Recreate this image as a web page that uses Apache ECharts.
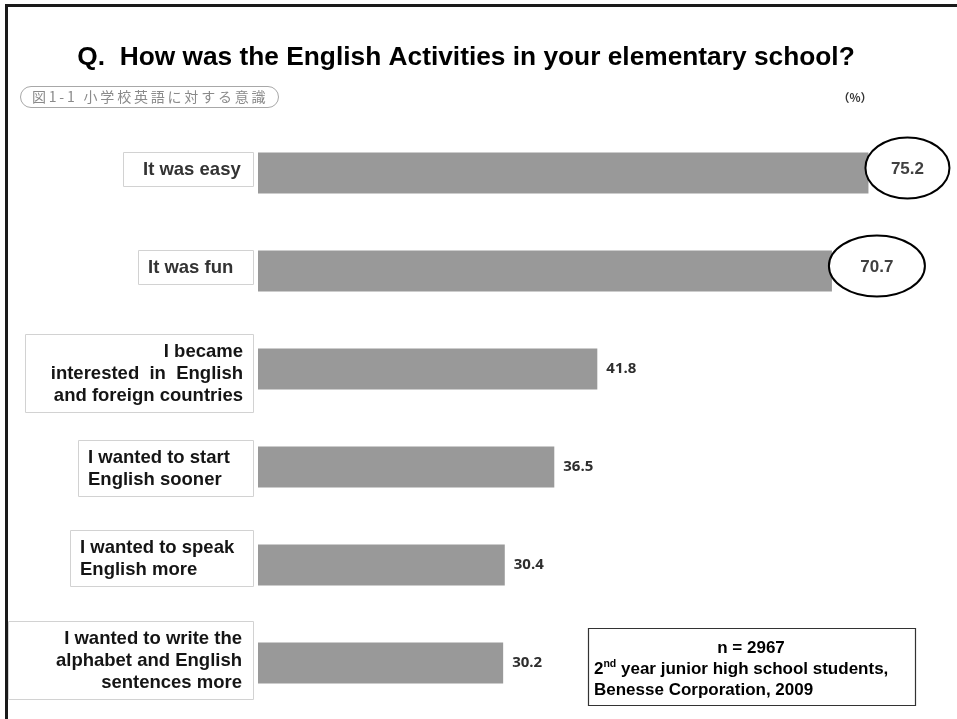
<!DOCTYPE html>
<html>
<head>
<meta charset="utf-8">
<title>English Activities in elementary school</title>
<script src="https://cdn.jsdelivr.net/npm/echarts@6/dist/echarts.min.js"></script>
<style>
  html, body { margin: 0; padding: 0; background: #ffffff; }
  #chart { width: 957px; height: 719px; }
</style>
</head>
<body>
<div id="chart"></div>
<script>
// Survey answers (percent of students), top to bottom
const categories = [
  'It was easy',
  'It was fun',
  'I became\ninterested  in  English\nand foreign countries',
  'I wanted to start\nEnglish sooner',
  'I wanted to speak\nEnglish more',
  'I wanted to write the\nalphabet and English\nsentences more'
];
const percentages = [75.2, 70.7, 41.8, 36.5, 30.4, 30.2];
const highlightedCount = 2;   // the leading answers get an oval around their value

const titleText = 'Q.  How was the English Activities in your elementary school?';
const figureTag = '図1-1 小学校英語に対する意識';
const unitText = '（%）';
const noteLines = ['n = 2967', 'year junior high school students,', 'Benesse Corporation, 2009'];

// Label box styling per category (width, text alignment, inner padding, vertical nudge)
const boxWidth = [130, 115, 228, 175, 183, 245];
const boxAlign = ['left', 'left', 'right', 'left', 'left', 'right'];
const boxPad = [20, 10, 10, 10, 10, 11];
const boxShift = [-4, -4, 4, 1, -7, -3];
const ovalRx = [42, 48];

const SANS = '"Liberation Sans", Arial, sans-serif';
const LINE_H = 22;

// spread the figure tag out a little (thin spaces between characters)
const spacedTag = Array.from(figureTag).join('\u2009');

const chart = echarts.init(document.getElementById('chart'), null, { renderer: 'canvas' });

const barData = percentages.map((v, i) =>
  i < highlightedCount ? { value: v, label: { show: false } } : v
);

const option = {
  animation: false,
  backgroundColor: '#ffffff',
  grid: { left: 258, top: 124, width: 690, height: 588, containLabel: false },
  xAxis: { type: 'value', min: 0, max: 85, show: false },
  yAxis: { type: 'category', data: categories, inverse: true, show: false },
  series: [
    {
      type: 'bar',
      data: barData,
      barWidth: 41,
      itemStyle: { color: '#999999' },
      label: {
        show: true,
        position: 'right',
        distance: 9,
        formatter: p => Number(p.value).toFixed(1),
        fontFamily: '"Open Sans", "Noto Sans", sans-serif',
        fontWeight: 700,
        fontSize: 15,
        color: '#2e2e2e'
      },
      z: 2
    },
    {
      // category label boxes to the left of the bars
      type: 'custom',
      data: categories.map((_, i) => [0, i]),
      encode: { x: 0, y: 1 },
      z: 3,
      silent: true,
      renderItem: function (params, api) {
        const idx = api.value(1);
        const p = api.coord([0, idx]);
        const right = p[0] - 5;
        const w = boxWidth[idx];
        const left = right - w;
        const nLines = categories[idx].split('\n').length;
        const h = nLines * LINE_H + 12;
        const cy = p[1] + boxShift[idx];
        const align = boxAlign[idx];
        return {
          type: 'group',
          children: [
            {
              type: 'rect',
              shape: { x: Math.round(left) + 0.5, y: Math.round(cy - h / 2) + 0.5, width: w, height: h },
              style: { fill: '#ffffff', stroke: '#d2d2d2', lineWidth: 1 }
            },
            {
              type: 'text',
              style: {
                text: categories[idx],
                x: align === 'left' ? left + boxPad[idx] : right - boxPad[idx],
                y: cy + 1,
                align: align,
                verticalAlign: 'middle',
                lineHeight: LINE_H,
                font: 'bold 18.5px ' + SANS,
                fill: idx < highlightedCount ? '#333333' : '#151515'
              }
            }
          ]
        };
      }
    },
    {
      // ovals around the leading values
      type: 'custom',
      data: percentages.slice(0, highlightedCount).map((v, i) => [v, i]),
      encode: { x: 0, y: 1 },
      z: 4,
      silent: true,
      renderItem: function (params, api) {
        const v = api.value(0);
        const idx = api.value(1);
        const p = api.coord([v, idx]);
        const rx = ovalRx[idx];
        const cx = p[0] + rx - 3;
        const cy = p[1] - 5;
        return {
          type: 'group',
          children: [
            {
              type: 'ellipse',
              shape: { cx: cx, cy: cy, rx: rx, ry: 30.5 },
              style: { fill: '#ffffff', stroke: '#000000', lineWidth: 2 }
            },
            {
              type: 'text',
              style: {
                text: v.toFixed(1),
                x: cx,
                y: cy + 1,
                align: 'center',
                verticalAlign: 'middle',
                font: 'bold 17px ' + SANS,
                fill: '#404040'
              }
            }
          ]
        };
      }
    }
  ],
  graphic: [
    {
      type: 'text', x: 466, y: 58, z: 10,
      style: { text: titleText, font: 'bold 26.3px ' + SANS, fill: '#000000', align: 'center', verticalAlign: 'middle' }
    },
    {
      type: 'rect', z: 10,
      shape: { x: 20.5, y: 86.5, width: 258, height: 21, r: 10.5 },
      style: { fill: '#ffffff', stroke: '#a8a8a8', lineWidth: 1 }
    },
    {
      type: 'text', x: 32, y: 97, z: 11,
      style: { text: spacedTag, font: '14px "Noto Sans CJK JP", sans-serif', fill: '#8a8a8a', align: 'left', verticalAlign: 'middle' }
    },
    {
      type: 'text', x: 855, y: 98, z: 10,
      style: { text: unitText, font: 'bold 11.5px "Noto Sans CJK JP", sans-serif', fill: '#333333', align: 'center', verticalAlign: 'middle' }
    },
    {
      type: 'rect', z: 10,
      shape: { x: 588.5, y: 628.5, width: 327, height: 77 },
      style: { fill: '#ffffff', stroke: '#333333', lineWidth: 1.2 }
    },
    {
      type: 'text', x: 751, y: 648, z: 11,
      style: { text: noteLines[0], font: 'bold 17px ' + SANS, fill: '#000000', align: 'center', verticalAlign: 'middle' }
    },
    {
      type: 'text', x: 594, y: 669, z: 11,
      style: {
        text: '{n|2}{s|nd}{n| ' + noteLines[1] + '}',
        align: 'left',
        verticalAlign: 'middle',
        rich: {
          n: { font: 'bold 17px ' + SANS, fill: '#000000', lineHeight: 21 },
          s: { font: 'bold 10.5px ' + SANS, fill: '#000000', verticalAlign: 'top', lineHeight: 12 }
        }
      }
    },
    {
      type: 'text', x: 594, y: 690, z: 11,
      style: { text: noteLines[2], font: 'bold 17px ' + SANS, fill: '#000000', align: 'left', verticalAlign: 'middle' }
    },
    {
      // outer frame (top and left edges)
      type: 'polyline', z: 20,
      shape: { points: [[6.5, 719], [6.5, 5.5], [957, 5.5]] },
      style: { stroke: '#1a1a1a', lineWidth: 3, fill: null }
    }
  ]
};

chart.setOption(option);
</script>
</body>
</html>
